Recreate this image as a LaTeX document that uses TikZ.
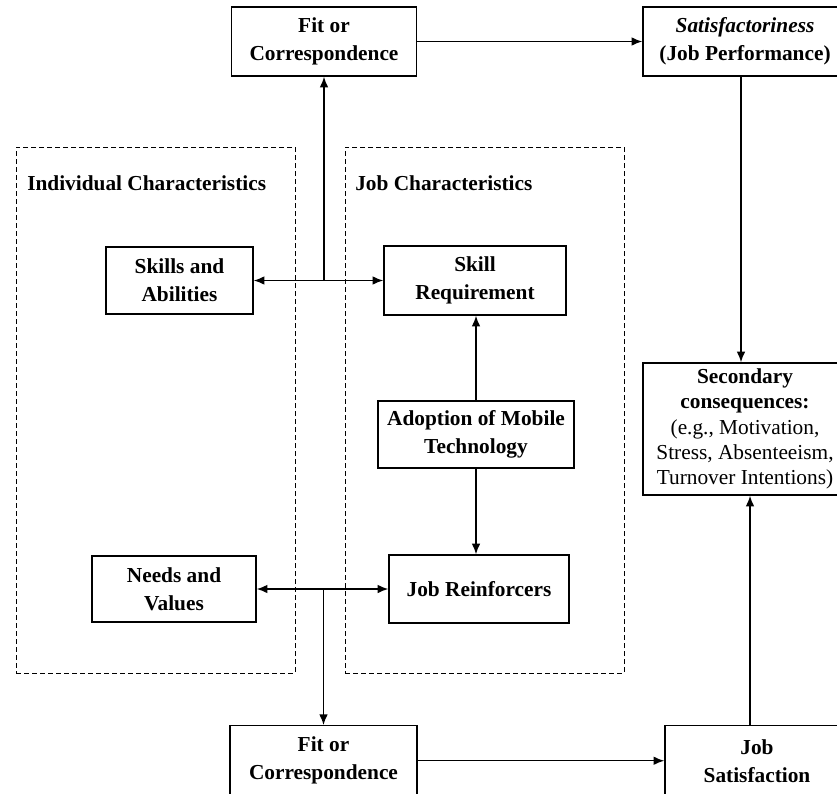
\documentclass[tikz,border=0pt]{standalone}
\usepackage{fontspec}
\setmainfont{Liberation Serif}
\usetikzlibrary{arrows.meta}
\newcommand\bxfont{\fontsize{16}{21}\selectfont\bfseries}
\newcommand\secfont{\fontsize{16}{19}\selectfont}
\begin{document}
\begin{tikzpicture}[x=0.75pt,y=-0.75pt,
  box/.style={draw, line width=1.1pt, align=center, inner sep=0pt, font=\bxfont},
  group/.style={draw, dash pattern=on 3.6pt off 2.4pt, line width=0.7pt, inner sep=0pt},
  lbl/.style={anchor=west, inner sep=0pt, font=\bxfont},
  conn/.style={line width=1.1pt},
  >={Latex[length=8pt,width=6.5pt]}]
\clip (0,0) rectangle (837,793);
\fill[white] (0,0) rectangle (837,793);
% groups
\node[group, minimum width=209.25pt, minimum height=394.5pt] (gind) at (155.5,410) {};
\node[group, minimum width=209.25pt, minimum height=394.5pt] (gjob) at (484.5,410) {};
\node[lbl] (lind) at (27,183) {Individual Characteristics};
\node[lbl] (ljob) at (355,183) {Job Characteristics};
% boxes
\node[box, minimum width=138.75pt, minimum height=51.75pt] (fittop) at (324,41.5) {Fit or\\Correspondence};
\node[box, minimum width=153pt, minimum height=51.75pt] (sat) at (745,41.5) {\textit{Satisfactoriness}\\(Job Performance)};
\node[box, minimum width=110.25pt, minimum height=50.25pt] (skills) at (179.5,280.5) {Skills and\\Abilities};
\node[box, minimum width=136.5pt, minimum height=51.75pt] (skillreq) at (475,280.5) {Skill\\Requirement};
\node[box, minimum width=147pt, minimum height=50.25pt] (adopt) at (476,434.5) {Adoption of Mobile\\Technology};
\node[box, minimum width=123pt, minimum height=49.5pt] (needs) at (174,589) {Needs and\\Values};
\node[box, minimum width=135pt, minimum height=51pt] (reinf) at (479,589) {Job Reinforcers};
\node[box, font=\secfont, minimum width=153pt, minimum height=99pt] (sec) at (745,429)
  {\textbf{Secondary}\\\textbf{consequences:}\\(e.g., Motivation,\\Stress, Absenteeism,\\Turnover Intentions)};
\node[box, anchor=north, minimum width=140.25pt, minimum height=52.5pt] (fitbot) at (323.5,725) {Fit or\\Correspondence};
\node[box, anchor=north, minimum width=138pt, minimum height=52.5pt] (jobsat) at (757,725) {Job\\Satisfaction};
% junctions
\coordinate (j1) at (fittop.south |- skills.east);
\coordinate (j2) at (fitbot.north |- needs.east);
\coordinate (jstop) at (750,725);
\coordinate (sattop) at (741,76);
% connectors
\draw[conn, <->] (skills.east) -- (skillreq.west);
\draw[conn, ->] (j1) -- (fittop.south);
\draw[conn, <->] (needs.east) -- (reinf.west);
\draw[conn, ->] (j2) -- (fitbot.north);
\draw[conn, ->] (adopt.north) -- (adopt.north |- skillreq.south);
\draw[conn, ->] (adopt.south) -- (adopt.south |- reinf.north);
\draw[conn, ->] (fittop.east) -- (fittop.east -| sat.west);
\draw[conn, ->] (fitbot.east) -- (fitbot.east -| jobsat.west);
\draw[conn, ->] (sattop) -- (sattop |- sec.north);
\draw[conn, ->] (jstop) -- (jstop |- sec.south);
\end{tikzpicture}
\end{document}
